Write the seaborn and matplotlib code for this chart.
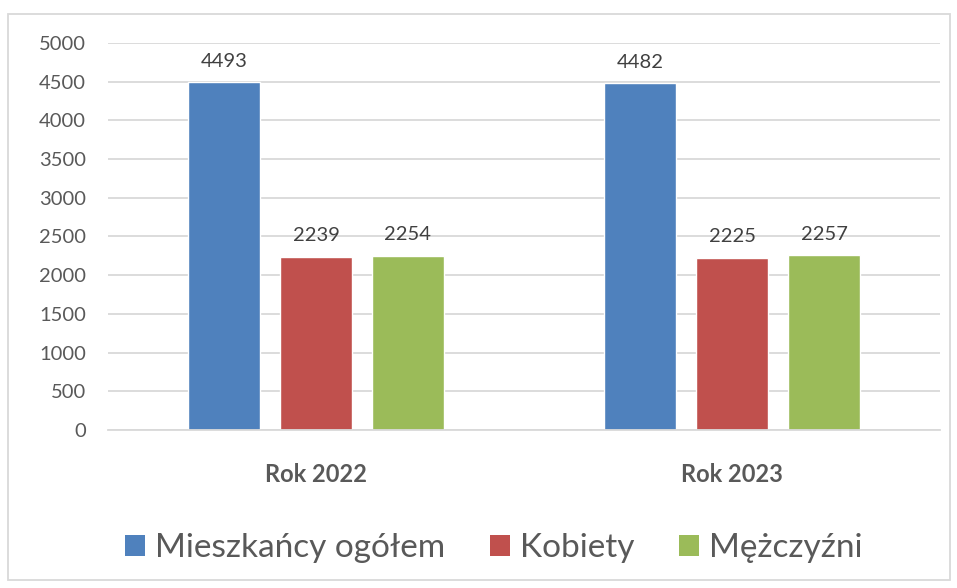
import pandas as pd
import numpy as np
import matplotlib.pyplot as plt
import seaborn as sns
from matplotlib.patches import Rectangle, Patch

# data
years = ['Rok 2022', 'Rok 2023']
series = ['Mieszkańcy ogółem', 'Kobiety', 'Mężczyźni']
ogolem = [4493, 4482]
kobiety = [2239, 2225]
mezczyzni = [2254, 2257]
colors = ['#4F81BD', '#C0504D', '#9BBB59']

df = pd.DataFrame({
    'Rok': years * 3,
    'Seria': [s for s in series for _ in years],
    'Liczba': ogolem + kobiety + mezczyzni,
})

sns.set_style('white')
plt.rcParams['font.family'] = ['Lato', 'DejaVu Sans']

fig = plt.figure(figsize=(9.57, 5.88), dpi=100)
ax = fig.add_axes([0.1129, 0.2687, 0.8694, 0.6582])

sns.barplot(data=df, x='Rok', y='Liczba', hue='Seria', order=years,
            hue_order=series, palette=colors, width=0.663, gap=0.217,
            saturation=1, ax=ax, legend=False)

for cont in ax.containers:
    ax.bar_label(cont, padding=9, fontsize=14.5, color='#404040')

ax.set_ylim(0, 5000)
ax.set_xlim(-0.5, 1.5)
ax.set_yticks(np.arange(0, 5001, 500))
ax.yaxis.grid(True, color='#D9D9D9', linewidth=1.3)
ax.set_axisbelow(True)
ax.set_xlabel('')
ax.set_ylabel('')
for s in ['top', 'right', 'left']:
    ax.spines[s].set_visible(False)
ax.spines['bottom'].set_color('#D9D9D9')
ax.spines['bottom'].set_linewidth(1.3)
ax.tick_params(axis='y', length=0, pad=16, labelsize=14.5, labelcolor='#595959')
ax.tick_params(axis='x', length=0, pad=24, labelsize=17, labelcolor='#595959')
for lbl in ax.get_xticklabels():
    lbl.set_fontweight('bold')

handles = [Patch(facecolor=c, edgecolor='none') for c in colors]
fig.legend(handles, series, loc='center', bbox_to_anchor=(0.516, 0.068),
           ncol=3, frameon=False, fontsize=24, labelcolor='#595959',
           handlelength=0.6, handleheight=0.6, handletextpad=0.3,
           columnspacing=1.35)

fig.patches.append(Rectangle((8 / 957, 1 - 580 / 588), 942 / 957, 566 / 588,
                             transform=fig.transFigure, fill=False,
                             edgecolor='#D9D9D9', linewidth=1.3))

fig.savefig('out.png', dpi=100)
